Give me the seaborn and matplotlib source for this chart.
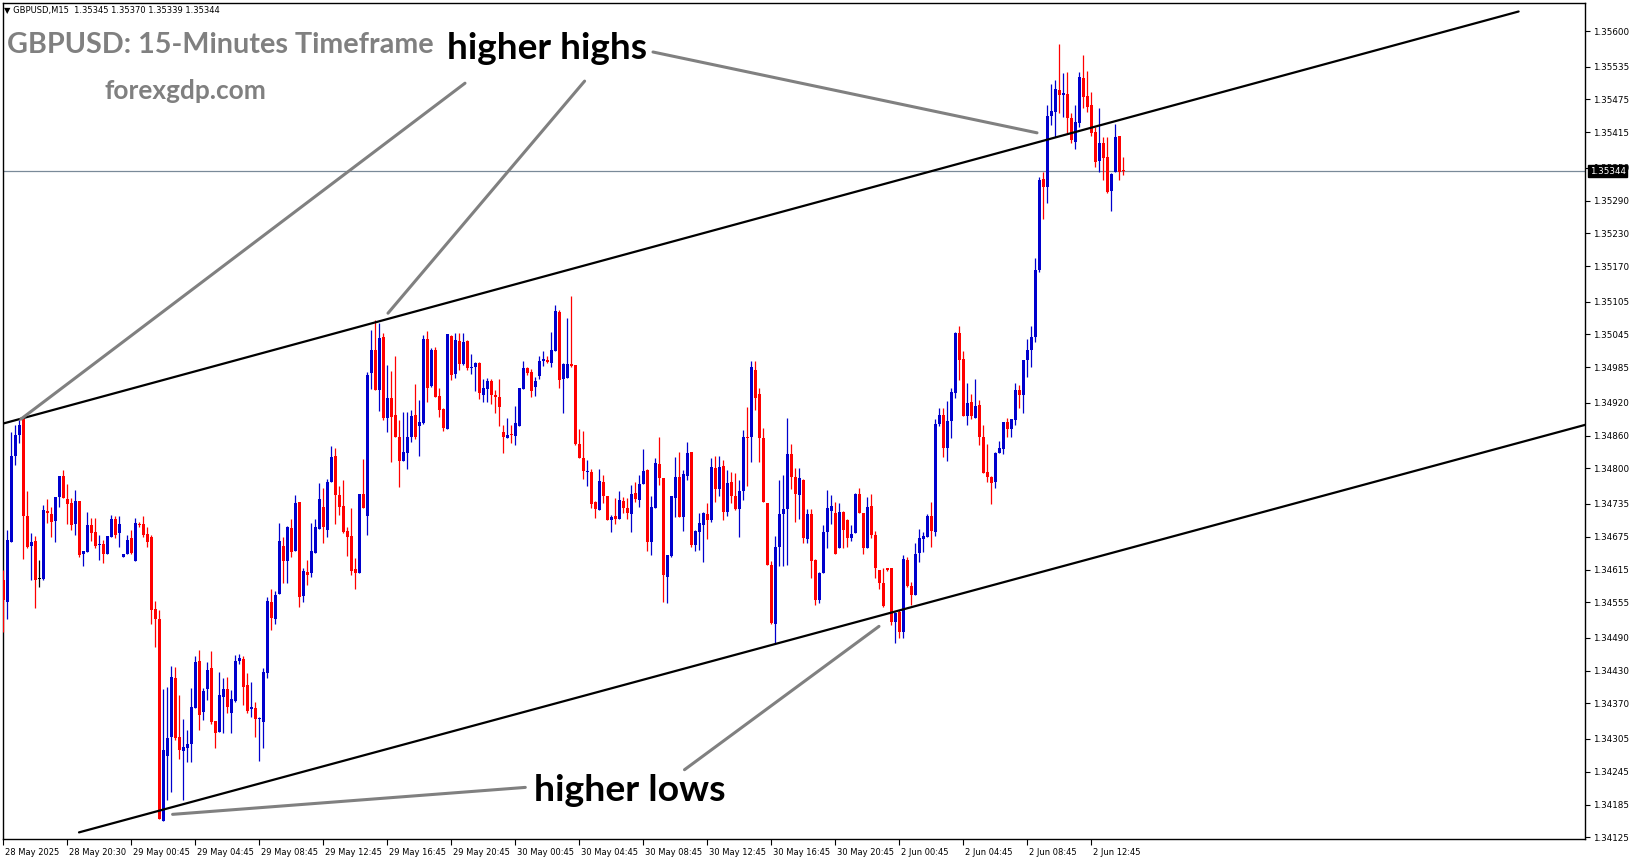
import numpy as np
import pandas as pd
import matplotlib
matplotlib.use("Agg")
import matplotlib.pyplot as plt
import matplotlib.transforms as mtrans
import seaborn as sns

# ---------------- data (prices in points, 1 point = 0.00001) ----------------
open_pts = [134596,134556,134666,134823,134861,134891,134712,134658,134667,134597,134597,134722,134716,134704,134747,134786,134744,134736,134699,134740,
134643,134647,134696,134683,134660,134661,134644,134675,134707,134681,134638,134643,134673,134631,134699,134698,134680,134675,134543,134524,
134155,134274,134308,134417,134309,134283,134289,134295,134361,134447,134355,134397,134435,134338,134317,134382,134396,134352,134374,134448,
134452,134403,134359,134361,134341,134336,134425,134556,134525,134571,134658,134631,134691,134649,134738,134567,134611,134608,134646,134690,
134729,134687,134775,134823,134752,134731,134685,134677,134616,134608,134754,134713,134974,135017,134944,135040,134892,134928,134898,134858,
134813,134828,134858,134897,134877,134883,135036,134950,135017,134933,134908,134872,135043,134973,135033,134991,135033,134983,134985,134993,
134935,134946,134959,134935,134930,134866,134856,134863,134860,134878,134946,134983,134976,134949,134969,134996,134999,134993,135014,135087,
134963,134966,134991,134989,134845,134819,134794,134794,134739,134724,134776,134749,134705,134713,134708,134741,134727,134717,134755,134742,
134772,134797,134666,134727,134808,134782,134602,134639,134745,134784,134711,134787,134830,134659,134684,134697,134716,134705,134800,134762,
134805,134721,134776,134749,134725,134758,134858,134858,134980,134936,134855,134736,134623,134516,134657,134716,134726,134826,134785,134751,
134779,134671,134716,134633,134559,134609,134683,134722,134719,134654,134721,134705,134673,134681,134754,134718,134654,134732,134678,134614,
134590,134617,134617,134519,134538,134501,134632,134585,134568,134646,134670,134674,134712,134684,134881,134898,134838,134887,134938,135047,
135000,134895,134921,134893,134916,134857,134793,134785,134776,134829,134835,134884,134873,134888,134943,134934,134998,135017,135041,135163,
135329,135315,135445,135453,135492,135484,135485,135442,135398,135432,135515,135481,135465,135416,135363,135396,135370,135308,135343,135408,
135345]
high_pts = [134614,134687,134867,134879,134888,134895,134759,134681,134676,134632,134733,134744,134730,134748,134786,134797,134771,134745,134760,134740,
134649,134721,134710,134710,134678,134669,134676,134715,134712,134713,134644,134679,134688,134710,134702,134712,134693,134678,134557,134540,
134397,134400,134438,134437,134385,134342,134321,134399,134457,134468,134399,134446,134465,134338,134428,134416,134419,134394,134458,134461,
134457,134425,134410,134373,134346,134434,134565,134579,134575,134701,134674,134695,134708,134751,134738,134617,134632,134701,134707,134774,
134765,134780,134841,134838,134768,134779,134693,134728,134636,134754,134818,134977,135054,135072,135066,135047,134989,134979,135006,134889,
134904,134903,134906,134955,134925,135044,135052,135020,135022,134947,134910,135046,135044,135047,135047,135047,135035,135010,134994,134994,
134963,134965,134964,134944,134964,134880,134892,134880,134914,134948,134997,134985,134982,134968,135006,135014,135005,135050,135099,135089,
134993,135075,135115,134989,134872,134869,134816,134799,134741,134799,134788,134750,134715,134745,134759,134747,134745,134770,134775,134788,
134835,134799,134749,134819,134858,134783,134642,134750,134820,134830,134797,134848,134830,134687,134718,134721,134736,134819,134822,134822,
134816,134797,134794,134792,134779,134871,134913,134997,134997,134947,134874,134737,134630,134676,134779,134788,134893,134844,134800,134800,
134780,134725,134725,134635,134611,134696,134760,134751,134739,134736,134722,134708,134696,134755,134765,134719,134748,134754,134686,134615,
134617,134618,134618,134538,134541,134641,134638,134593,134663,134690,134684,134716,134739,134891,134910,134910,134924,134948,135050,135060,
135015,134956,134937,134963,134926,134879,134844,134786,134830,134851,134885,134893,134891,134957,134952,134998,135036,135060,135185,135334,
135342,135465,135503,135511,135576,135524,135526,135450,135465,135526,135556,135528,135489,135425,135460,135407,135407,135340,135430,135409,
135370]
low_pts = [134501,134525,134666,134806,134846,134635,134654,134596,134544,134583,134596,134701,134675,134666,134730,134745,134699,134687,134678,134638,
134622,134647,134668,134655,134632,134627,134644,134675,134672,134657,134638,134643,134644,134631,134693,134675,134657,134516,134474,134158,
134155,134193,134208,134303,134268,134193,134263,134263,134361,134321,134339,134376,134333,134289,134317,134315,134352,134315,134373,134443,
134367,134353,134346,134309,134265,134288,134416,134504,134516,134571,134590,134590,134638,134649,134546,134555,134586,134602,134646,134690,
134663,134675,134775,134699,134715,134681,134640,134605,134580,134608,134727,134678,134946,134944,134905,134889,134866,134811,134857,134766,
134813,134799,134849,134853,134822,134881,134922,134949,134930,134894,134869,134872,134962,134965,134980,134989,134980,134973,134942,134927,
134922,134922,134918,134902,134878,134828,134855,134846,134842,134878,134946,134971,134930,134932,134963,134988,134993,134985,135014,134947,
134902,134965,134986,134843,134819,134780,134767,134727,134709,134724,134736,134705,134684,134698,134708,134718,134707,134684,134739,134729,
134772,134648,134642,134727,134770,134556,134553,134637,134711,134711,134686,134779,134657,134648,134650,134628,134670,134702,134738,134749,
134705,134713,134736,134723,134674,134742,134767,134811,134906,134811,134739,134623,134515,134480,134622,134622,134623,134763,134702,134707,
134663,134663,134600,134550,134553,134609,134654,134699,134643,134654,134655,134657,134668,134681,134718,134644,134654,134672,134600,134580,
134547,134612,134513,134480,134489,134489,134583,134550,134568,134629,134647,134674,134657,134677,134877,134821,134814,134855,134929,134962,
134895,134879,134891,134893,134843,134791,134776,134735,134765,134829,134827,134858,134857,134879,134911,134901,134968,134986,135032,135159,
135257,135286,135428,135407,135451,135443,135414,135395,135384,135425,135460,135453,135408,135352,135343,135328,135303,135271,135343,135328,
135337]
close_pts = [134559,134669,134823,134861,134879,134712,134657,134665,134596,134597,134724,134718,134702,134747,134786,134746,134734,134696,134740,134641,
134649,134696,134682,134658,134661,134643,134676,134708,134678,134698,134644,134669,134646,134701,134697,134678,134666,134541,134525,134158,
134285,134307,134419,134306,134285,134291,134295,134364,134446,134349,134393,134431,134336,134316,134385,134397,134364,134378,134448,134453,
134400,134356,134364,134342,134342,134427,134557,134527,134568,134667,134631,134692,134647,134736,134565,134612,134605,134649,134692,134744,
134692,134775,134820,134752,134729,134683,134675,134613,134608,134753,134727,134970,135016,134944,135038,134892,134928,134894,134858,134813,
134830,134858,134895,134858,134885,135036,134947,135017,134930,134907,134874,135046,134970,135035,134991,135032,134983,134986,134993,134938,
134947,134959,134935,134930,134913,134858,134861,134861,134883,134947,134983,134975,134942,134960,134997,135000,134994,135017,135088,134962,
134991,134991,134988,134845,134819,134796,134796,134735,134725,134777,134749,134705,134711,134708,134742,134727,134718,134753,134744,134772,
134795,134666,134729,134810,134782,134605,134641,134749,134784,134711,134790,134829,134660,134686,134700,134718,134705,134802,134762,134802,
134721,134774,134749,134725,134758,134858,134856,134985,134928,134855,134739,134623,134517,134657,134716,134726,134827,134785,134753,134782,
134673,134716,134631,134559,134608,134683,134727,134732,134644,134721,134687,134673,134680,134754,134718,134654,134730,134678,134617,134590,
134548,134614,134519,134535,134501,134634,134585,134568,134644,134672,134676,134712,134686,134882,134898,134838,134887,134939,135047,134998,
134895,134919,134895,134915,134857,134792,134785,134774,134829,134838,134884,134873,134890,134943,134935,134998,135017,135041,135163,135327,
135315,135445,135454,135495,135483,135486,135442,135401,135434,135517,135480,135462,135414,135361,135396,135368,135305,135338,135407,135343,
135344]

date_labels = ["28 May 2025", "28 May 20:30", "29 May 00:45", "29 May 04:45", "29 May 08:45",
               "29 May 12:45", "29 May 16:45", "29 May 20:45", "30 May 00:45", "30 May 04:45",
               "30 May 08:45", "30 May 12:45", "30 May 16:45", "30 May 20:45", "2 Jun 00:45",
               "2 Jun 04:45", "2 Jun 08:45", "2 Jun 12:45"]
date_label_bars = [0, 16, 32, 48, 64, 80, 96, 112, 128, 144, 160, 176, 192, 208, 224, 240, 256, 272]

price_ticks = [1.35600, 1.35535, 1.35475, 1.35415, 1.35350, 1.35290, 1.35230, 1.35170, 1.35105,
               1.35045, 1.34985, 1.34920, 1.34860, 1.34800, 1.34735, 1.34675, 1.34615, 1.34555,
               1.34490, 1.34430, 1.34370, 1.34305, 1.34245, 1.34185, 1.34125]
last_price = 1.35344

# channel lines: (bar, price) anchors
upper_channel_bar = [-0.1, 378.8]
upper_channel_price = [1.34882, 1.35636]
lower_channel_bar = [18.9, 395.6]
lower_channel_price = [1.34134, 1.34880]

# pointer targets (bar, price)
hh_target_bar = [4.35, 96.15, 258.4]
hh_target_price = [1.34890, 1.35084, 1.35414]
hl_target_bar = [42.3, 218.9]
hl_target_price = [1.34167, 1.34511]

# ---------------- build frame ----------------
df = pd.DataFrame({
    "bar": np.arange(len(open_pts)),
    "open": np.array(open_pts) / 1e5,
    "high": np.array(high_pts) / 1e5,
    "low": np.array(low_pts) / 1e5,
    "close": np.array(close_pts) / 1e5,
})
BLUE, RED, BLACK = "#0000CD", "#FF0000", "#000000"
df["color"] = np.where(df.close > df.open, BLUE, np.where(df.close < df.open, RED, BLACK))

sns.set_theme(style="white")
plt.rcParams["font.family"] = ["DejaVu Sans"]

W, H = 1631, 861
fig = plt.figure(figsize=(W / 100, H / 100), dpi=100)
fig.patch.set_facecolor("white")
L, R, T, B = 2.7, 1585, 2.7, 839
ax = fig.add_axes([L / W, 1 - B / H, (R - L) / W, (B - T) / H])
ax.set_facecolor("white")

ax.set_xlim(-0.175, 395.4)
ax.set_ylim(1.341219, 1.356521)

# current price line
ax.axhline(last_price, color="#7A8A99", lw=0.9, zorder=1)

# candles
ax.vlines(df.bar, df.low, df.high, colors=df.color, lw=0.9, zorder=3)
body_h = np.maximum((df.close - df.open).abs(), 1.6e-5)
ax.bar(df.bar, body_h, bottom=np.minimum(df.open, df.close), width=0.7,
       color=df.color, linewidth=0, zorder=4)

# channel lines
ax.plot(upper_channel_bar, upper_channel_price, color="black", lw=1.6, zorder=5)
ax.plot(lower_channel_bar, lower_channel_price, color="black", lw=1.6, zorder=5)

# axes styling
for s in ax.spines.values():
    s.set_visible(True)
    s.set_color("black")
    s.set_linewidth(1.0)

ax.yaxis.tick_right()
ax.set_yticks(price_ticks)
ax.set_yticklabels([f"{p:.5f}" for p in price_ticks])
ax.tick_params(axis="y", which="major", right=True, left=False, length=3.5, width=0.8,
               pad=2, labelsize=6.3, colors="black", direction="out")

ax.set_xticks([b - 0.15 for b in date_label_bars])
ax.set_xticklabels(date_labels)
ax.tick_params(axis="x", which="major", bottom=True, length=4, width=0.8, pad=2.5,
               labelsize=6.0, colors="black", direction="out")
for lbl in ax.get_xticklabels():
    lbl.set_ha("left")
    lbl.set_transform(lbl.get_transform() + mtrans.ScaledTranslation(2 / 100, 0, fig.dpi_scale_trans))
ax.set_xlabel("")
ax.set_ylabel("")
ax.grid(False)

# last price box
ax.annotate(f"{last_price:.5f}", xy=(1.0, last_price),
            xycoords=("axes fraction", "data"), xytext=(3.5, 0), textcoords="offset points",
            ha="left", va="center", fontsize=6.3, color="white",
            bbox=dict(boxstyle="square,pad=0.18", fc="black", ec="black"), zorder=10,
            annotation_clip=False)

def fx(px):
    return px / W

def fy(py):
    return 1 - py / H

BIG = ["Lato", "DejaVu Sans"]

# header
fig.text(fx(4), fy(10), "\u25bc GBPUSD,M15  1.35345 1.35370 1.35339 1.35344",
         fontsize=6, color="black", ha="left", va="center", family=["DejaVu Sans"])

# titles
fig.text(fx(7.3), fy(53), "GBPUSD: 15-Minutes Timeframe", fontsize=20.7, weight="bold",
         color="#808080", ha="left", va="baseline", family=BIG)
fig.text(fx(185), fy(99), "forexgdp.com", fontsize=18.9, weight="bold",
         color="#808080", ha="center", va="baseline", family=BIG)
fig.text(fx(546.6), fy(59), "higher highs", fontsize=26.6, weight="bold",
         color="black", ha="center", va="baseline", family=BIG)
fig.text(fx(630), fy(801), "higher lows", fontsize=26.9, weight="bold",
         color="black", ha="center", va="baseline", family=BIG)

# pointer lines
hh_start_px = [(465, 83.2), (584.6, 81.1), (653, 52)]
hl_start_px = [(525.3, 787.4), (684.5, 769.7)]
for (sx, sy), tb, tp in zip(hh_start_px, hh_target_bar, hh_target_price):
    ax.annotate("", xy=(tb, tp), xycoords="data", xytext=(sx, H - sy), textcoords="figure pixels",
                arrowprops=dict(arrowstyle="-", color="#808080", lw=2.2, shrinkA=0, shrinkB=0),
                annotation_clip=False, zorder=6)
for (sx, sy), tb, tp in zip(hl_start_px, hl_target_bar, hl_target_price):
    ax.annotate("", xy=(tb, tp), xycoords="data", xytext=(sx, H - sy), textcoords="figure pixels",
                arrowprops=dict(arrowstyle="-", color="#808080", lw=2.2, shrinkA=0, shrinkB=0),
                annotation_clip=False, zorder=6)

fig.savefig("out.png", dpi=100, facecolor="white")
